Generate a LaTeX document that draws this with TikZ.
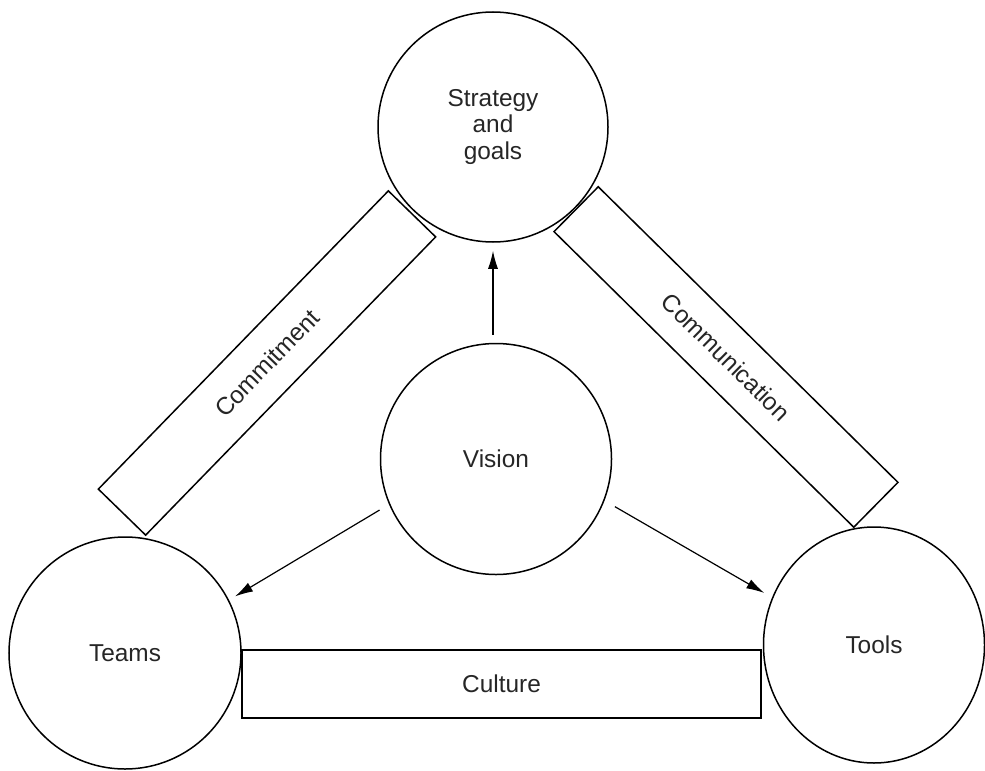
\documentclass[tikz,border=0pt]{standalone}
\usepackage{fontspec}
\setmainfont{Liberation Sans}
\usetikzlibrary{arrows.meta,shapes.geometric}
\begin{document}
\begin{tikzpicture}[x=1bp,y=-1bp,
  every node/.style={font=\fontsize{24.5}{27}\selectfont, text=black!85},
  bigcircle/.style={circle,draw,line width=1.5bp,inner sep=0pt,align=center},
  bar/.style={rectangle,draw,line width=1.5bp,inner sep=0pt},
  arr/.style={line width=1.2bp,-{Latex[length=18bp,width=10bp]}}]
\useasboundingbox (0,0) rectangle (985,771);
\node[bigcircle,minimum size=230bp] (strat) at (493,127) {Strategy\\and\\goals};
\node[bigcircle,minimum size=231bp] (vision) at (496,459) {Vision};
\node[bigcircle,minimum size=232bp] (teams) at (125,653) {Teams};
\node[ellipse,draw,line width=1.5bp,inner sep=0pt,minimum width=221bp,minimum height=236bp] (tools) at (874,645) {Tools};
\node[bar,minimum width=416bp,minimum height=66bp,rotate=45.8] (commit) at (267,363) {Commitment};
\node[bar,minimum width=421bp,minimum height=63bp,rotate=-44.6] (comm) at (726,357) {Communication};
\node[bar,minimum width=519bp,minimum height=68bp] (culture) at (501.5,684) {Culture};
\draw[arr,shorten <=8bp,shorten >=8bp] (vision.north -| strat.south) -- (strat.south);
\draw[arr,shorten <=11bp,shorten >=7bp] (vision.203) -- (teams.27);
\draw[arr,shorten <=12bp,shorten >=9bp] (vision.-21) -- (tools.155);
\end{tikzpicture}
\end{document}
